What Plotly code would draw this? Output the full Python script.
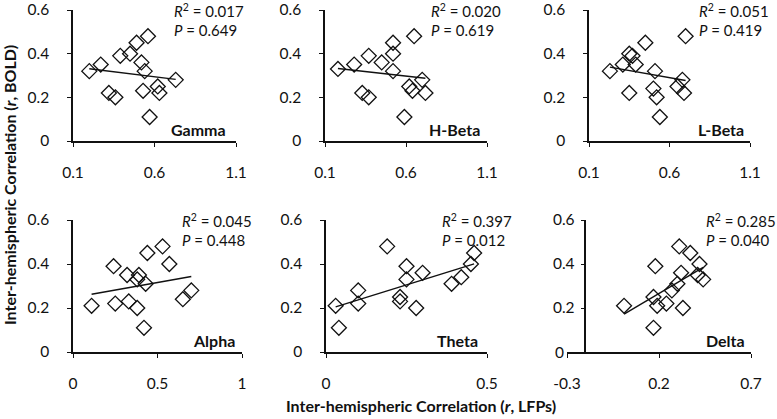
import numpy as np
import plotly.graph_objects as go

W, H = 777, 419

# ---------------- data ----------------
gamma_x = [0.20, 0.27, 0.39, 0.45, 0.49, 0.56, 0.52, 0.54, 0.73, 0.32, 0.36, 0.53, 0.62, 0.63, 0.57]
gamma_y = [0.32, 0.35, 0.39, 0.40, 0.45, 0.48, 0.36, 0.32, 0.28, 0.22, 0.20, 0.23, 0.25, 0.22, 0.11]

hbeta_x = [0.18, 0.28, 0.37, 0.45, 0.52, 0.52, 0.52, 0.65, 0.70, 0.33, 0.37, 0.62, 0.64, 0.72, 0.59]
hbeta_y = [0.33, 0.35, 0.39, 0.36, 0.45, 0.40, 0.32, 0.48, 0.28, 0.22, 0.20, 0.25, 0.23, 0.22, 0.11]

lbeta_x = [0.23, 0.31, 0.35, 0.37, 0.39, 0.45, 0.51, 0.70, 0.68, 0.35, 0.50, 0.52, 0.65, 0.69, 0.54]
lbeta_y = [0.32, 0.35, 0.40, 0.39, 0.35, 0.45, 0.32, 0.48, 0.28, 0.22, 0.24, 0.20, 0.25, 0.22, 0.11]

alpha_x = [0.11, 0.24, 0.32, 0.25, 0.33, 0.38, 0.39, 0.38, 0.43, 0.44, 0.42, 0.53, 0.57, 0.65, 0.70]
alpha_y = [0.21, 0.39, 0.35, 0.22, 0.23, 0.20, 0.35, 0.33, 0.31, 0.45, 0.11, 0.48, 0.40, 0.24, 0.28]

theta_x = [0.03, 0.04, 0.10, 0.10, 0.19, 0.23, 0.23, 0.25, 0.25, 0.28, 0.30, 0.39, 0.42, 0.45, 0.46]
theta_y = [0.21, 0.11, 0.28, 0.22, 0.48, 0.25, 0.23, 0.39, 0.33, 0.20, 0.36, 0.31, 0.34, 0.40, 0.45]

delta_x = [0.01, 0.18, 0.17, 0.17, 0.19, 0.24, 0.27, 0.30, 0.32, 0.31, 0.33, 0.37, 0.42, 0.41, 0.44]
delta_y = [0.21, 0.39, 0.11, 0.25, 0.21, 0.22, 0.28, 0.31, 0.36, 0.48, 0.20, 0.45, 0.40, 0.35, 0.33]

band_names = ["Gamma", "H-Beta", "L-Beta", "Alpha", "Theta", "Delta"]
r2_values = ["0.017", "0.020", "0.051", "0.045", "0.397", "0.285"]
p_values = ["0.649", "0.619", "0.419", "0.448", "0.012", "0.040"]

x_ranges = [[0.1, 1.1], [0.1, 1.1], [0.1, 1.1], [0, 1], [0, 0.5], [-0.3, 0.7]]
x_ticks = [[0.1, 0.6, 1.1], [0.1, 0.6, 1.1], [0.1, 0.6, 1.1], [0, 0.5, 1], [0, 0.5], [-0.3, 0.2, 0.7]]
x_ticktext = [["0.1", "0.6", "1.1"], ["0.1", "0.6", "1.1"], ["0.1", "0.6", "1.1"],
              ["0", "0.5", "1"], ["0", "0.5"], ["-0.3", "0.2", "0.7"]]
y_ticks = [0, 0.2, 0.4, 0.6]
y_ticktext = ["0", "0.2", "0.4", "0.6"]
delta_y_cross = -0.2

xs = [gamma_x, hbeta_x, lbeta_x, alpha_x, theta_x, delta_x]
ys = [gamma_y, hbeta_y, lbeta_y, alpha_y, theta_y, delta_y]

# ---------------- layout geometry (pixels) ----------------
col_px = [(73, 236), (325, 487), (589, 750), (73, 242), (326, 487), (567, 751)]
row_px = [(10, 141), (10, 141), (10, 141), (220, 352), (220, 352), (220, 352)]
stat_left_px = [172, 429, 697, 180, 440, 704]
label_right_px = [228, 482, 746, 237, 480, 747]

FONT = "Lato, 'Open Sans', sans-serif"
INK = "#111111"

fig = go.Figure()
layout = dict(
    width=W, height=H,
    margin=dict(l=0, r=0, t=0, b=0, autoexpand=False),
    paper_bgcolor="white", plot_bgcolor="white",
    showlegend=False,
    font=dict(family=FONT, size=15, color=INK),
)
annotations = []

for i in range(6):
    k = i + 1
    xa = "x" if k == 1 else f"x{k}"
    ya = "y" if k == 1 else f"y{k}"
    x = np.array(xs[i])
    y = np.array(ys[i])
    # regression trendline
    slope, intercept = np.polyfit(x, y, 1)
    lx = np.array([x.min(), x.max()])
    fig.add_trace(go.Scatter(x=lx, y=slope * lx + intercept, mode="lines",
                             line=dict(color=INK, width=1.4),
                             xaxis=xa, yaxis=ya, hoverinfo="skip"))
    fig.add_trace(go.Scatter(x=x, y=y, mode="markers",
                             marker=dict(symbol="diamond-open", size=11.5,
                                         color=INK, line=dict(width=1.3, color=INK)),
                             xaxis=xa, yaxis=ya))

    x0, x1 = col_px[i]
    yt, yb = row_px[i]
    xdom = [x0 / W, x1 / W]
    ydom = [1 - yb / H, 1 - yt / H]
    xkey = "xaxis" if k == 1 else f"xaxis{k}"
    ykey = "yaxis" if k == 1 else f"yaxis{k}"
    layout[xkey] = dict(
        domain=xdom, range=x_ranges[i], anchor=ya, automargin=False,
        tickmode="array", tickvals=x_ticks[i], ticktext=x_ticktext[i],
        showline=True, linecolor=INK, linewidth=1.5,
        ticks="outside", ticklen=4, tickwidth=1.4, tickcolor=INK,
        showgrid=False, zeroline=False,
        ticklabelstandoff=13,
        tickfont=dict(family=FONT, size=15.5, color=INK),
    )
    ydict = dict(
        domain=ydom, range=[0, 0.6], automargin=False,
        tickmode="array", tickvals=y_ticks, ticktext=y_ticktext,
        showline=True, linecolor=INK, linewidth=1.5,
        ticks="outside", ticklen=4, tickwidth=1.4, tickcolor=INK,
        showgrid=False, zeroline=False,
        ticklabelstandoff=15,
        tickfont=dict(family=FONT, size=15.5, color=INK),
    )
    if band_names[i] == "Delta":
        pos = (x0 + (delta_y_cross - x_ranges[i][0]) / (x_ranges[i][1] - x_ranges[i][0]) * (x1 - x0)) / W
        ydict.update(anchor="free", position=pos, ticklabelstandoff=3,
                     ticktext=[""] + y_ticktext[1:])
        annotations.append(dict(text="0", x=x_ranges[i][0], y=0, xref=xa, yref=ya,
                                xanchor="right", yanchor="middle", xshift=-1,
                                showarrow=False, font=dict(family=FONT, size=15.5, color=INK)))
    else:
        ydict.update(anchor=xa)
    layout[ykey] = ydict

    # statistics text
    annotations.append(dict(text=f"<i>R</i><sup>2</sup> = {r2_values[i]}",
                            x=stat_left_px[i] / W, y=1 - (yt + 0.5) / H,
                            xref="paper", yref="paper", xanchor="left", yanchor="middle",
                            showarrow=False, font=dict(family=FONT, size=15, color=INK)))
    annotations.append(dict(text=f"<i>P</i> = {p_values[i]}",
                            x=stat_left_px[i] / W, y=1 - (yt + 20) / H,
                            xref="paper", yref="paper", xanchor="left", yanchor="middle",
                            showarrow=False, font=dict(family=FONT, size=15, color=INK)))
    # band label
    annotations.append(dict(text=f"<b>{band_names[i]}</b>",
                            x=label_right_px[i] / W, y=1 - (yb - 12) / H,
                            xref="paper", yref="paper", xanchor="right", yanchor="middle",
                            showarrow=False, font=dict(family=FONT, size=16, color=INK)))

# axis titles
annotations.append(dict(text="<b>Inter-hemispheric Correlation (<i>r</i>, BOLD)</b>",
                        x=10 / W, y=1 - 185 / H, xref="paper", yref="paper",
                        xanchor="center", yanchor="middle", textangle=-90,
                        showarrow=False, font=dict(family=FONT, size=16, color=INK)))
annotations.append(dict(text="<b>Inter-hemispheric Correlation (<i>r</i>, LFPs)</b>",
                        x=421 / W, y=1 - 405 / H, xref="paper", yref="paper",
                        xanchor="center", yanchor="middle",
                        showarrow=False, font=dict(family=FONT, size=16, color=INK)))

layout["annotations"] = annotations
fig.update_layout(**layout)
fig.write_html("out.html", config={"displayModeBar": False},
               post_script="document.body.style.margin='0';")
